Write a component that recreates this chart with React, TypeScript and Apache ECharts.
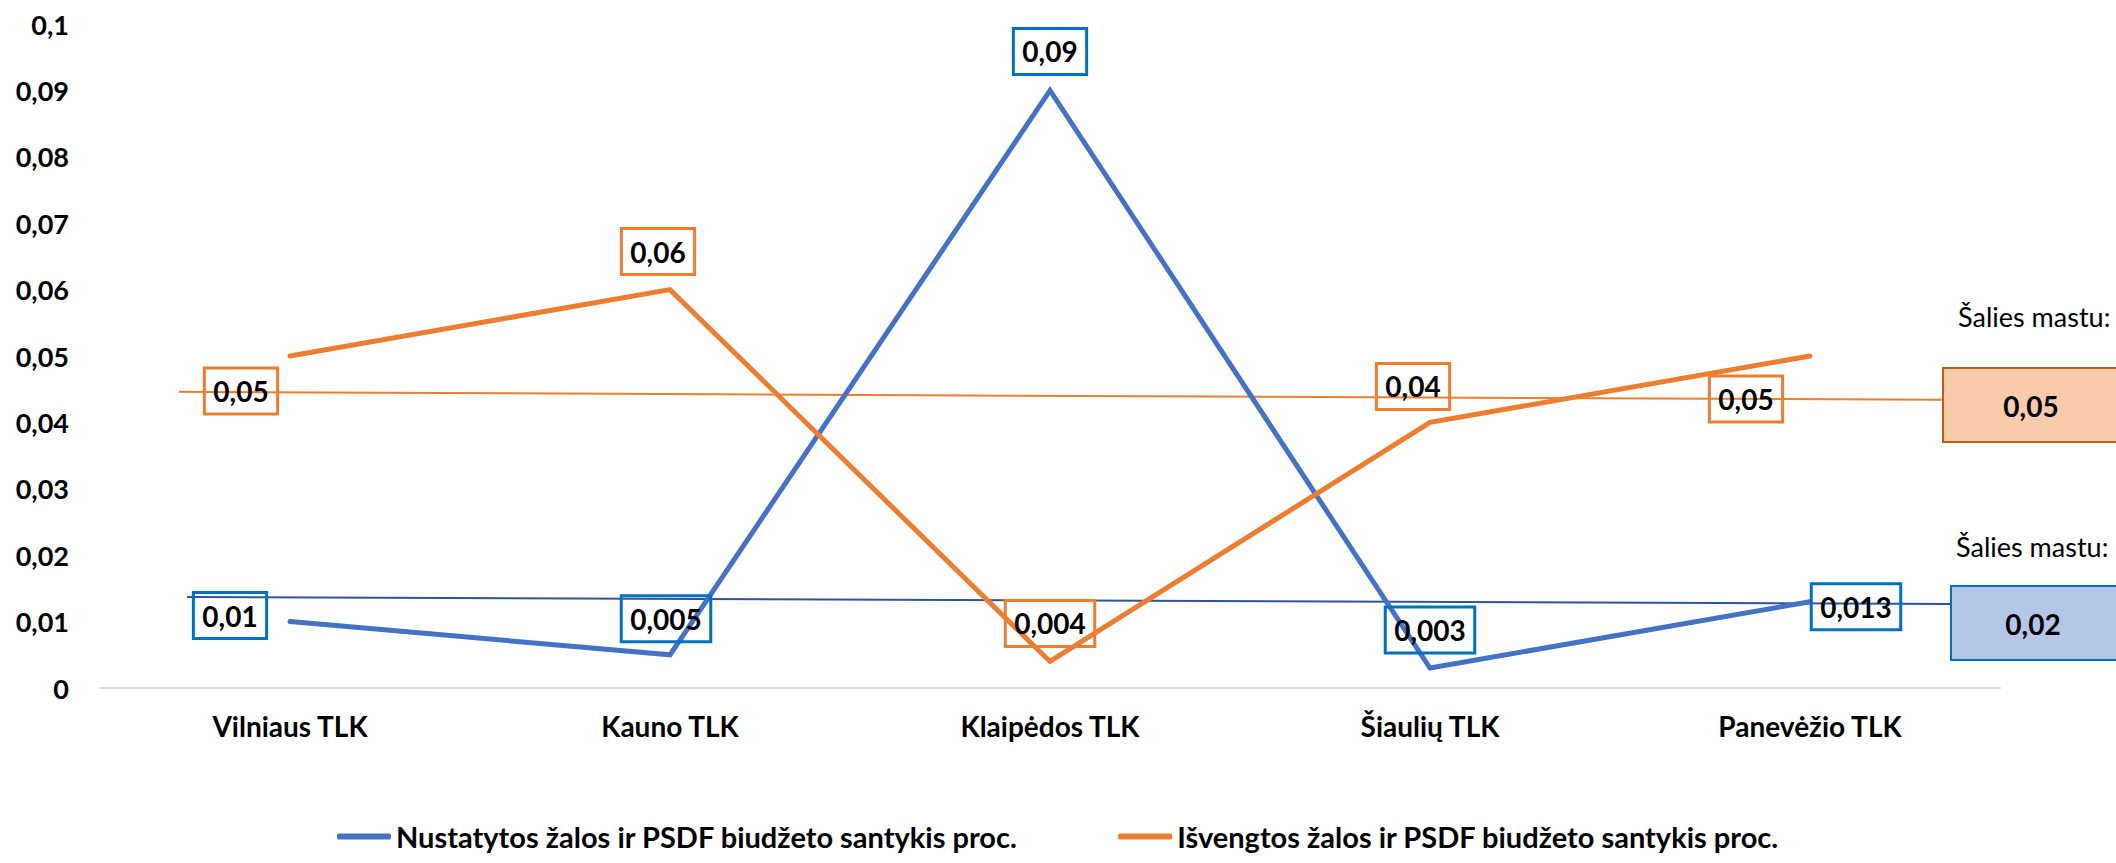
import React, { useEffect, useRef } from "react";
import * as echarts from "echarts";

const categories = ["Vilniaus TLK", "Kauno TLK", "Klaipėdos TLK", "Šiaulių TLK", "Panevėžio TLK"];
const detectedRatio = [0.01, 0.005, 0.09, 0.003, 0.013];
const avoidedRatio = [0.05, 0.06, 0.004, 0.04, 0.05];
const seriesNames = [
  "Nustatytos žalos ir PSDF biudžeto santykis proc.",
  "Išvengtos žalos ir PSDF biudžeto santykis proc.",
];
const nationalCaption = "Šalies mastu:";
const nationalDetected = 0.02;
const nationalAvoided = 0.05;
// thin connector lines leading to the national boxes (x in category-band units, y in axis value)
const connectorDetected = [
  [0.229, 0.0137],
  [4.871, 0.01265],
];
const connectorAvoided = [
  [0.208, 0.0446],
  [4.85, 0.0434],
];
const yTicks = { min: 0, max: 0.1, interval: 0.01 };

// layout: label offsets relative to each point (px)
const detectedLabelOffsets = [
  [-60, -6],
  [-4, -36],
  [0, -39],
  [0, -38],
  [46, 5],
];
const avoidedLabelOffsets = [
  [-49, 35],
  [-12, -38],
  [0, -38],
  [-17, -36],
  [-64, 43],
];

const BLUE = "#4472C4";
const ORANGE = "#ED7D31";
const FONT = "Lato, 'Open Sans', sans-serif";

const fmt = (v: number) => {
  const r = Math.round(v * 10000) / 10000;
  return r === 0 ? "0" : String(r).replace(".", ",");
};

function labelFor(offsets: number[][], border: string) {
  return offsets.map((o) => ({
    show: true,
    position: "inside",
    offset: o,
    formatter: (p: any) => fmt(p.value),
    color: "#000",
    fontFamily: FONT,
    fontWeight: "bold",
    fontSize: 28,
    lineHeight: 31,
    padding: [8, 9, 7, 9],
    borderColor: border,
    borderWidth: 1.5,
    backgroundColor: "transparent",
  }));
}

export default function App() {
  const ref = useRef<HTMLDivElement>(null);
  useEffect(() => {
    if (!ref.current) return;
    const chart = echarts.init(ref.current, undefined, { renderer: "svg" });
    const dLabels = labelFor(detectedLabelOffsets, "#0070C0");
    const aLabels = labelFor(avoidedLabelOffsets, ORANGE);
    chart.setOption({
      animation: false,
      backgroundColor: "#fff",
      textStyle: { fontFamily: FONT },
      grid: { left: 100, right: 116, top: 24, bottom: 175, containLabel: false },
      xAxis: [
        {
          type: "category",
          data: categories,
          boundaryGap: true,
          axisLine: { show: true, lineStyle: { color: "#D9D9D9", width: 2 } },
          axisTick: { show: false },
          axisLabel: {
            margin: 24,
            color: "#000",
            fontFamily: FONT,
            fontWeight: "bold",
            fontSize: 28,
            interval: 0,
          },
        },
        { type: "value", min: 0, max: 5, show: false },
      ],
      yAxis: {
        type: "value",
        min: yTicks.min,
        max: yTicks.max,
        interval: yTicks.interval,
        axisLine: { show: false },
        axisTick: { show: false },
        splitLine: { show: false },
        axisLabel: {
          margin: 31,
          color: "#000",
          fontFamily: FONT,
          fontWeight: "bold",
          fontSize: 27,
          formatter: (v: number) => fmt(v),
        },
      },
      legend: {
        data: seriesNames,
        left: 337,
        top: 822,
        icon: "roundRect",
        itemWidth: 54,
        itemHeight: 6,
        itemGap: 100,
        padding: 0,
        textStyle: { color: "#000", fontFamily: FONT, fontWeight: "bold", fontSize: 29 },
      },
      series: [
        {
          name: "connectorDetected",
          type: "line",
          xAxisIndex: 1,
          data: connectorDetected,
          symbol: "none",
          silent: true,
          lineStyle: { color: "#2F5597", width: 2 },
          z: 1,
        },
        {
          name: "connectorAvoided",
          type: "line",
          xAxisIndex: 1,
          data: connectorAvoided,
          symbol: "none",
          silent: true,
          lineStyle: { color: ORANGE, width: 2 },
          z: 1,
        },
        {
          name: seriesNames[0],
          type: "line",
          data: detectedRatio.map((v, i) => ({ value: v, label: dLabels[i] })),
          symbol: "circle",
          symbolSize: 2,
          itemStyle: { color: BLUE },
          lineStyle: { color: BLUE, width: 5, cap: "round", join: "miter" },
          z: 3,
        },
        {
          name: seriesNames[1],
          type: "line",
          data: avoidedRatio.map((v, i) => ({ value: v, label: aLabels[i] })),
          symbol: "circle",
          symbolSize: 2,
          itemStyle: { color: ORANGE },
          lineStyle: { color: ORANGE, width: 5, cap: "round", join: "miter" },
          z: 3,
        },
      ],
      graphic: [
        {
          type: "text",
          left: 1958,
          top: 303,
          style: { text: nationalCaption, fill: "#000", font: `27px ${FONT}` },
          z: 10,
        },
        {
          type: "rect",
          shape: { x: 1943, y: 368, width: 200, height: 74 },
          style: { fill: "#F8CBAD", stroke: "#C55A11", lineWidth: 2 },
          z: 10,
        },
        {
          type: "text",
          x: 2031,
          y: 406,
          style: {
            text: fmt(nationalAvoided),
            fill: "#000",
            font: `bold 28px ${FONT}`,
            textAlign: "center",
            textVerticalAlign: "middle",
          },
          z: 11,
        },
        {
          type: "text",
          left: 1956,
          top: 533,
          style: { text: nationalCaption, fill: "#000", font: `27px ${FONT}` },
          z: 10,
        },
        {
          type: "rect",
          shape: { x: 1951, y: 586, width: 200, height: 74 },
          style: { fill: "#B4C7E7", stroke: "#0070C0", lineWidth: 2 },
          z: 10,
        },
        {
          type: "text",
          x: 2033,
          y: 624,
          style: {
            text: fmt(nationalDetected),
            fill: "#000",
            font: `bold 28px ${FONT}`,
            textAlign: "center",
            textVerticalAlign: "middle",
          },
          z: 11,
        },
      ],
    });
    return () => chart.dispose();
  }, []);
  return (
    <div
      ref={ref}
      style={{ position: "absolute", left: 0, top: 0, width: 2116, height: 863 }}
    />
  );
}
